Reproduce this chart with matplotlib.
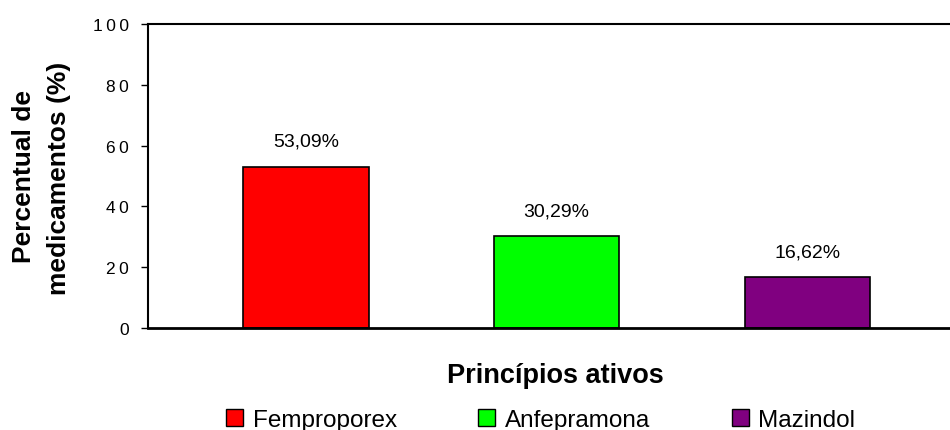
import matplotlib.pyplot as plt
from matplotlib.patches import Patch

plt.rcParams['font.family'] = ['Liberation Sans', 'DejaVu Sans']

# ── Data ──────────────────────────────────────────────
categories = ["Femproporex", "Anfepramona", "Mazindol"]
values = [53.09, 30.29, 16.62]
value_labels = ["53,09%", "30,29%", "16,62%"]
colors = ["#FF0000", "#00FF00", "#800080"]
y_ticks = [0, 20, 40, 60, 80, 100]

# ── Plot ──────────────────────────────────────────────
fig = plt.figure(figsize=(9.5, 4.31), dpi=100)
ax = fig.add_axes([148 / 950, 1 - 329 / 431, 1.003 - 148 / 950, (329 - 25) / 431])

x = list(range(len(categories)))
ax.bar(x, values, width=0.5, color=colors, edgecolor="black", linewidth=1.2)

for xi, v, lab in zip(x, values, value_labels):
    ax.text(xi, v + 8.3, lab, ha="center", va="center", fontsize=14)

ax.set_xlim(-0.63, 2.58)
ax.set_ylim(0, 100)
ax.set_yticks(y_ticks)
# tick labels in the original are letter-spaced
ax.set_yticklabels(["\u2009".join(str(t)) for t in y_ticks], fontsize=12.5)
ax.set_xticks([])
ax.tick_params(axis="y", length=5, width=1, pad=8.5)

for side in ["top", "left"]:
    ax.spines[side].set_linewidth(1.5)
ax.spines["bottom"].set_linewidth(2)
ax.spines["right"].set_visible(False)

fig.text(24 / 950, 1 - 177 / 431, "Percentual de", rotation=90,
         ha="center", va="center", fontsize=19, fontweight="bold")
fig.text(59 / 950, 1 - 178 / 431, "medicamentos (%)", rotation=90,
         ha="center", va="center", fontsize=19, fontweight="bold")

fig.text(555 / 950, 1 - 376 / 431, "Princípios ativos",
         ha="center", va="center", fontsize=19.5, fontweight="bold")

handles = [Patch(facecolor=c, edgecolor="black", linewidth=1) for c in colors]
fig.legend(handles, categories, loc="center left", bbox_to_anchor=(226 / 950, 1 - 421 / 431),
           ncol=3, frameon=False, fontsize=17.5, handlelength=0.7, handleheight=0.7,
           handletextpad=0.4, columnspacing=3.35, borderpad=0, borderaxespad=0)

fig.savefig("out.png", dpi=100)
